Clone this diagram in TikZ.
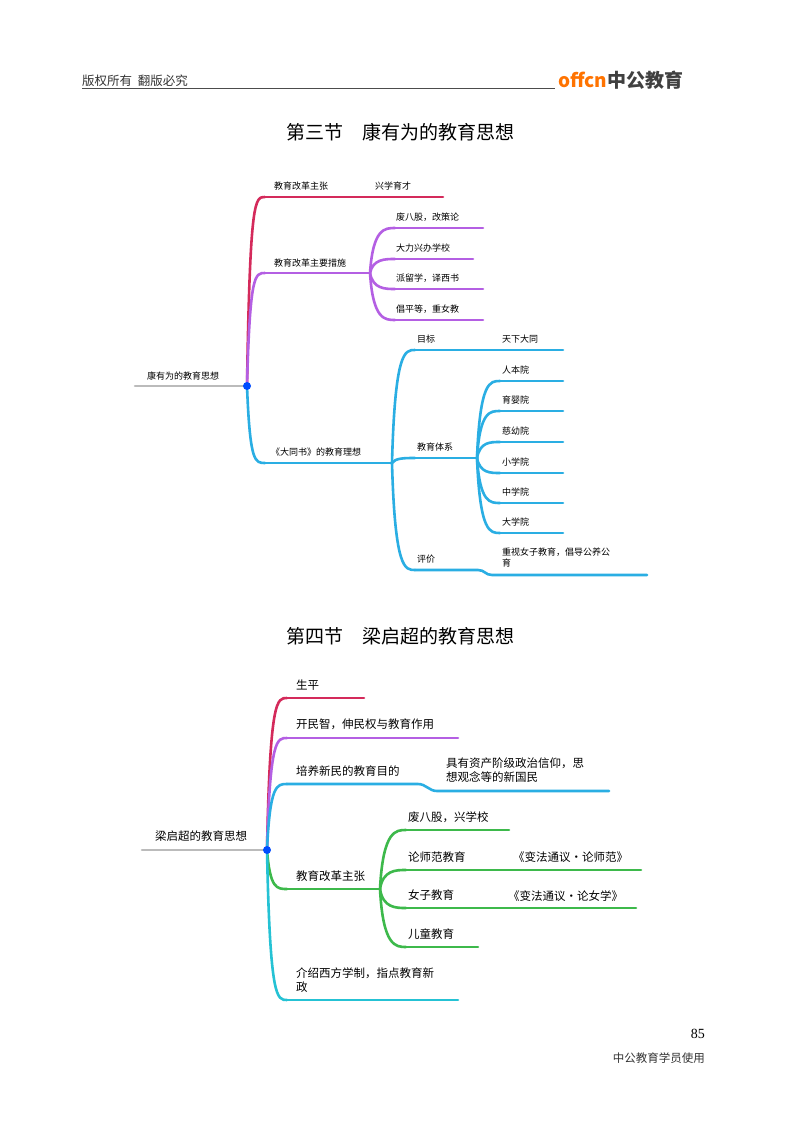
\documentclass[tikz,border=0pt]{standalone}
\usepackage{fontspec}
\setmainfont{Noto Sans CJK SC}
\newfontfamily\serifnum{Liberation Serif}
\usetikzlibrary{calc}
\definecolor{cr}{HTML}{D42A5B}
\definecolor{cp}{HTML}{B45FE3}
\definecolor{cb}{HTML}{2AAEE3}
\definecolor{cg}{HTML}{3DB94B}
\definecolor{cc}{HTML}{25C2D4}
\definecolor{cgr}{HTML}{BBBBBB}
\newcommand{\mybr}[3]{\draw[line,#3] (#1) .. controls ($(#1 |- #2)+(3,0)$) and ($(#2)+(-10,0)$) .. (#2);}
\begin{document}
\begin{tikzpicture}[x=1pt,y=-1pt,
  line/.style={line width=2.6pt,line cap=round},
  t/.style={anchor=west,inner sep=0pt,font=\fontsize{9}{11}\selectfont},
  tb/.style={anchor=west,inner sep=0pt,font=\fontsize{11.5}{14}\selectfont},
  dot/.style={circle,fill=blue!70!cyan,inner sep=0pt,minimum size=8pt}]
\useasboundingbox (0,0) rectangle (800,1124);
\fill[white] (0,0) rectangle (800,1124);
% header
\node[anchor=west,inner sep=0pt,font=\fontsize{12.5}{14}\selectfont,text=black!80] (hdr) at (82,81) {版权所有\ \ 翻版必究};
\coordinate (hl1) at (82,88); \coordinate (hl2) at (555,88);
\draw[black!70,line width=0.6pt] (hl1) -- (hl2);
\node[anchor=west,inner sep=0pt,font=\bfseries\fontsize{19}{21}\selectfont] (logo) at (558,80) {\textcolor{orange!90!red}{offcn}\textcolor{black!75}{中公教育}};
\node[inner sep=0pt,font=\fontsize{19}{22}\selectfont] (t1) at (400,132) {第三节\quad 康有为的教育思想};
\node[inner sep=0pt,font=\fontsize{19}{22}\selectfont] (t2) at (400,636) {第四节\quad 梁启超的教育思想};
% ===== map 1
\coordinate (r0) at (135,386);
\coordinate (Rc) at (247,386);
\draw[line,cgr] (r0) -- (Rc);
\node[t] (rt) at (147,376) {康有为的教育思想};
\coordinate (a) at (265,197); \coordinate (ae) at (443,197);
\coordinate (b) at (265,273); \coordinate (be) at (370,273);
\coordinate (c) at (265,463); \coordinate (ce) at (392,463);
\mybr{Rc}{a}{cr} \draw[line,cr] (a) -- (ae);
\mybr{Rc}{b}{cp} \draw[line,cp] (b) -- (be);
\mybr{Rc}{c}{cb} \draw[line,cb] (c) -- (ce);
\node[dot] (R) at (Rc) {};
\node[t] (at) at (274,186) {教育改革主张};
\node[t] (at2) at (375,186) {兴学育才};
\node[t] (bt) at (274,263) {教育改革主要措施};
\node[t] (ct) at (271,452) {《大同书》的教育理想};
% purple subs
\foreach \n/\y/\e/\s in {1/228/483/废八股，改策论,2/259/473/大力兴办学校,3/289/483/派留学，译西书,4/320/483/倡平等，重女教}{
  \coordinate (b\n) at (395,\y); \coordinate (b\n e) at (\e,\y);
  \mybr{be}{b\n}{cp} \draw[line,cp] (b\n) -- (b\n e);
  \node[t] (bt\n) at (396,\y-11) {\s};
}
% blue subs
\coordinate (c1) at (415,350); \coordinate (c1e) at (563,350);
\coordinate (c2) at (415,458); \coordinate (c2e) at (477,458);
\coordinate (c3) at (415,570); \coordinate (c3m) at (478,570); \coordinate (c3n) at (492,575); \coordinate (c3e) at (647,575);
\mybr{ce}{c1}{cb} \draw[line,cb] (c1) -- (c1e);
\mybr{ce}{c2}{cb} \draw[line,cb] (c2) -- (c2e);
\mybr{ce}{c3}{cb} \draw[line,cb] (c3) -- (c3m) .. controls ($(c3m)+(7,0)$) and ($(c3n)+(-7,0)$) .. (c3n) -- (c3e);
\node[t] (c1t) at (417,339) {目标};
\node[t] (c1t2) at (502,339) {天下大同};
\node[t] (c2t) at (417,447) {教育体系};
\node[t] (c3t) at (417,559) {评价};
\node[t,align=left] (c3t2) at (502,558) {重视女子教育，倡导公养公\\育};
\foreach \n/\y/\s in {1/381/人本院,2/411/育婴院,3/442/慈幼院,4/473/小学院,5/503/中学院,6/533/大学院}{
  \coordinate (d\n) at (500,\y); \coordinate (d\n e) at (563,\y);
  \mybr{c2e}{d\n}{cb} \draw[line,cb] (d\n) -- (d\n e);
  \node[t] (dt\n) at (502,\y-11) {\s};
}
% ===== map 2
\coordinate (s0) at (142,850);
\coordinate (Sc) at (267,850);
\draw[line,cgr] (s0) -- (Sc);
\node[tb] (st) at (155,836) {梁启超的教育思想};
\coordinate (p1) at (287,698); \coordinate (p1e) at (364,698);
\coordinate (p2) at (287,738); \coordinate (p2e) at (458,738);
\coordinate (p3) at (287,784); \coordinate (p3m) at (418,784); \coordinate (p3n) at (437,791); \coordinate (p3e) at (609,791);
\coordinate (p4) at (287,889); \coordinate (p4e) at (380,889);
\coordinate (p5) at (287,1000); \coordinate (p5e) at (458,1000);
\mybr{Sc}{p1}{cr} \draw[line,cr] (p1) -- (p1e);
\mybr{Sc}{p2}{cp} \draw[line,cp] (p2) -- (p2e);
\mybr{Sc}{p3}{cb} \draw[line,cb] (p3) -- (p3m) .. controls ($(p3m)+(8,0)$) and ($(p3n)+(-8,0)$) .. (p3n) -- (p3e);
\mybr{Sc}{p4}{cg} \draw[line,cg] (p4) -- (p4e);
\mybr{Sc}{p5}{cc} \draw[line,cc] (p5) -- (p5e);
\node[dot] (S) at (Sc) {};
\node[tb] (pt1) at (296,685) {生平};
\node[tb] (pt2) at (296,724) {开民智，伸民权与教育作用};
\node[tb] (pt3) at (296,771) {培养新民的教育目的};
\node[tb,align=left] (pt3b) at (446,770) {具有资产阶级政治信仰，思\\想观念等的新国民};
\node[tb] (pt4) at (296,876) {教育改革主张};
\node[tb,align=left] (pt5) at (296,980) {介绍西方学制，指点教育新\\政};
\foreach \n/\y/\e/\s in {1/830/509/废八股，兴学校,2/870/641/论师范教育,3/908/636/女子教育,4/947/478/儿童教育}{
  \coordinate (g\n) at (406,\y); \coordinate (g\n e) at (\e,\y);
  \mybr{p4e}{g\n}{cg} \draw[line,cg] (g\n) -- (g\n e);
  \node[tb] (gt\n) at (408,\y-13) {\s};
}
\node[tb] (gx2) at (513,857) {《变法通议•论师范》};
\node[tb] (gx3) at (508,896) {《变法通议•论女学》};
% footer
\node[anchor=east,inner sep=0pt,font=\serifnum\fontsize{14}{16}\selectfont] (pg) at (705,1034) {85};
\node[anchor=east,inner sep=0pt,font=\fontsize{11.5}{13}\selectfont,text=black!80] (ft) at (705,1058) {中公教育学员使用};
\end{tikzpicture}
\end{document}
